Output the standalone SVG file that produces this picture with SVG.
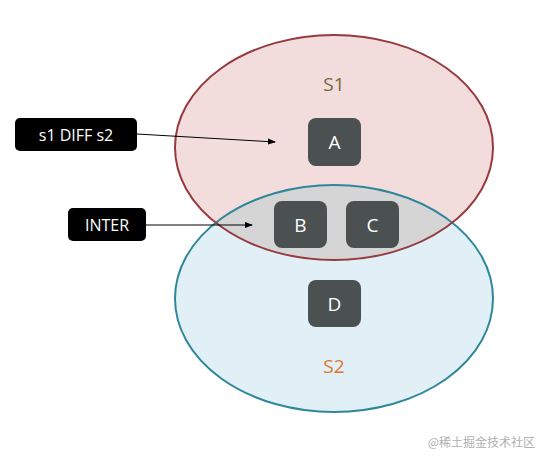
<svg xmlns="http://www.w3.org/2000/svg" width="539" height="457" viewBox="0 0 539 457">
<style>
.node rect{fill:#4b5151}
.node text{fill:#fff;font-family:"Open Sans","Noto Sans",sans-serif;font-size:19px;text-anchor:middle;dominant-baseline:central}
.lbl rect{fill:#000}
.lbl text{fill:#fff;font-family:"Open Sans","Noto Sans",sans-serif;font-size:16px;text-anchor:middle;dominant-baseline:central}
.set{font-family:"Open Sans","Noto Sans",sans-serif;font-size:19px;text-anchor:middle;dominant-baseline:central}
.conn{stroke:#000;stroke-width:1;fill:none;marker-end:url(#ah)}
</style>
<defs>
<marker id="ah" markerWidth="8" markerHeight="8" refX="7" refY="4" orient="auto" markerUnits="userSpaceOnUse">
<path d="M0,1 L8,4 L0,7 Z" fill="#000"/>
</marker>
<clipPath id="c1"><ellipse cx="334" cy="147.5" rx="159" ry="112.5"/></clipPath>
</defs>
<rect width="539" height="457" fill="#fff"/>
<g id="S1">
<ellipse cx="334" cy="147.5" rx="159" ry="112.5" fill="#f3dcdc"/>
</g>
<g id="S2">
<ellipse cx="334" cy="298.5" rx="159" ry="113.5" fill="#e0f0f6"/>
<ellipse cx="334" cy="298.5" rx="159" ry="113.5" fill="#d5d5d6" clip-path="url(#c1)"/>
<ellipse cx="334" cy="298.5" rx="159" ry="113.5" fill="none" stroke="#2f8799" stroke-width="2"/>
</g>
<ellipse cx="334" cy="147.5" rx="159" ry="112.5" fill="none" stroke="#963a3e" stroke-width="2"/>
<text class="set" x="334" y="84" fill="#6e6a3a">S1</text>
<text class="set" x="334" y="366" fill="#e0762a">S2</text>
<g id="A" class="node"><rect x="308" y="118" width="53" height="48" rx="8"/><text x="334.5" y="142">A</text></g>
<g id="B" class="node"><rect x="274" y="201" width="53" height="47" rx="8"/><text x="300.5" y="224.5">B</text></g>
<g id="C" class="node"><rect x="346" y="201" width="53" height="47" rx="8"/><text x="372.5" y="224.5">C</text></g>
<g id="D" class="node"><rect x="308" y="280" width="53" height="47" rx="8"/><text x="334.5" y="303.5">D</text></g>
<g id="diff" class="lbl"><rect x="15" y="118" width="122" height="33" rx="5"/><text x="76" y="134.5">s1 DIFF s2</text></g>
<g id="inter" class="lbl"><rect x="68" y="208" width="78" height="33" rx="5"/><text x="107" y="224.5">INTER</text></g>
<g id="connectors">
<line class="conn" x1="137" y1="134" x2="275" y2="142"/>
<line class="conn" x1="146" y1="225" x2="252" y2="225"/>
</g>
<text x="535" y="447" text-anchor="end" font-family="'Noto Sans CJK SC',sans-serif" font-size="12" fill="#b0b0b0">@稀土掘金技术社区</text>
</svg>
